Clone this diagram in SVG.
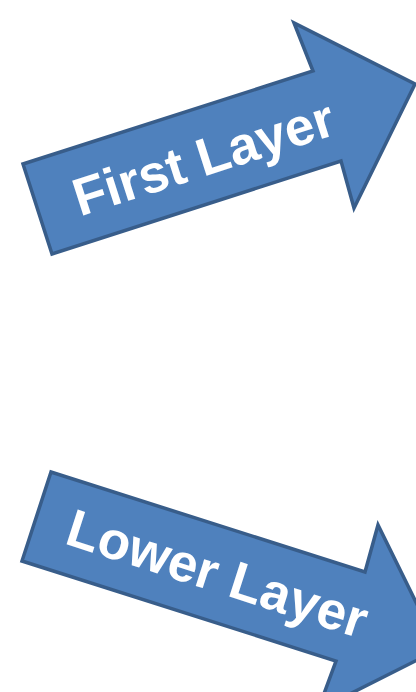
<svg xmlns="http://www.w3.org/2000/svg" width="416" height="692" viewBox="0 0 416 692">
<style>
.arrow{fill:#4F81BD;stroke:#385D8A;stroke-width:3.5;stroke-linejoin:miter}
.lbl{font-family:"Liberation Sans",Arial,sans-serif;font-weight:bold;font-size:53px;fill:#FFFFFF;text-anchor:middle}
</style>
<rect width="416" height="692" fill="#FFFFFF"/>
<g id="first-layer">
<polygon class="arrow" points="23,164 52,254 341,161 354,208 415,84 294,23 313,71"/>
<text class="lbl" transform="translate(209,175) rotate(-17.8)">First Layer</text>
</g>
<g id="lower-layer">
<polygon class="arrow" points="51,472 22,561 336,661 318,710 439,649 378,525 365,572"/>
<text class="lbl" transform="translate(212,591) rotate(17.8)">Lower Layer</text>
</g>
</svg>
